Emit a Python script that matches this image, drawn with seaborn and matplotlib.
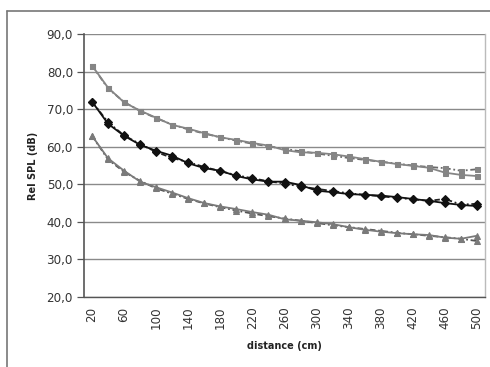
import matplotlib
matplotlib.use("Agg")
import matplotlib.pyplot as plt
import seaborn as sns
import numpy as np
import pandas as pd
from matplotlib.lines import Line2D

sns.set_style("white")
plt.rcParams['font.family'] = ['DejaVu Sans']

distance = [20, 40, 60, 80, 100, 120, 140, 160, 180, 200, 220, 240, 260,
            280, 300, 320, 340, 360, 380, 400, 420, 440, 460, 480, 500]

top_solid = [81.6, 75.7, 71.8, 69.6, 67.7, 65.8, 64.8, 63.6, 62.5, 61.8, 61.0, 60.3, 59.1,
             58.5, 58.4, 58.0, 57.4, 56.7, 56.0, 55.4, 54.9, 54.4, 53.1, 52.5, 52.2]
top_dotted = [81.6, 75.5, 71.9, 69.5, 67.6, 65.9, 64.6, 63.5, 62.5, 61.6, 60.8, 60.1, 59.4,
              58.8, 58.2, 57.6, 57.0, 56.5, 56.0, 55.5, 55.0, 54.6, 54.3, 53.6, 54.0]
mid_solid = [72.0, 66.1, 62.9, 60.5, 58.9, 57.6, 55.6, 54.3, 53.6, 52.2, 51.3, 50.7, 50.7,
             49.8, 48.3, 47.9, 47.4, 47.2, 47.0, 46.6, 46.1, 45.6, 45.0, 44.5, 44.2]
mid_dotted = [72.0, 66.5, 63.0, 60.7, 58.6, 57.0, 55.9, 54.6, 53.5, 52.4, 51.6, 50.8, 50.2,
              49.4, 48.8, 48.2, 47.6, 47.2, 46.8, 46.4, 46.0, 45.6, 46.1, 44.6, 44.8]
bot_solid = [62.9, 56.9, 53.6, 50.7, 49.2, 47.8, 46.3, 45.0, 44.1, 43.4, 42.6, 41.9, 40.7,
             40.3, 39.9, 39.4, 38.6, 37.9, 37.4, 37.0, 36.7, 36.5, 35.8, 35.5, 36.3]
bot_dotted = [62.9, 56.6, 53.3, 50.9, 48.9, 47.5, 46.1, 44.9, 43.9, 43.0, 42.2, 41.5, 40.9,
              40.3, 39.7, 39.1, 38.6, 38.1, 37.6, 37.1, 36.7, 36.3, 35.9, 35.5, 34.9]

y_ticks = [20, 30, 40, 50, 60, 70, 80, 90]
x_label_ticks = distance[::2]

fig = plt.figure(figsize=(4.9, 3.67), dpi=100)
ax = fig.add_axes([84/490, 1 - 297/367, 401/490, (297 - 34)/367])

dotstyle = (0, (3, 1.5, 1, 1.5))
series = [
    (top_solid, top_dotted, 's', '#858585', '#6a6a6a', 3.6),
    (mid_solid, mid_dotted, 'D', '#111111', '#222222', 3.8),
    (bot_solid, bot_dotted, '^', '#7a7a7a', '#555555', 4.2),
]
for solid, dotted, mk, c1, c2, ms in series:
    sns.lineplot(x=distance, y=dotted, ax=ax, color=c2, linestyle=dotstyle, linewidth=1.3,
                 marker=mk, markersize=ms, markeredgecolor=c1, markerfacecolor=c1)
    sns.lineplot(x=distance, y=solid, ax=ax, color=c1, linestyle='-', linewidth=1.3,
                 marker=mk, markersize=ms, markeredgecolor=c1, markerfacecolor=c1)

ax.set_xlim(10, 510)
ax.set_ylim(20, 90)
ax.set_yticks(y_ticks)
ax.set_yticklabels([f"{v:.1f}".replace('.', ',') for v in y_ticks], fontsize=8.6, color='#333333')
ax.set_xticks(x_label_ticks)
ax.set_xticklabels([str(v) for v in x_label_ticks], rotation=90, fontsize=8.6, color='#333333')
ax.set_xticks(np.arange(10, 511, 20), minor=True)
ax.tick_params(axis='x', which='major', length=0, pad=7)
ax.tick_params(axis='x', which='minor', length=5, width=0.9, color='#555555', direction='out')
ax.tick_params(axis='y', which='major', length=5, width=0.9, color='#555555', direction='out', left=True, pad=3)

ax.grid(False)
for v in y_ticks:
    ax.axhline(v, color='#8a8a8a', linewidth=1.0, zorder=0)

ax.spines['top'].set_visible(False)
ax.spines['left'].set_color('#555555')
ax.spines['left'].set_linewidth(1.2)
ax.spines['bottom'].set_color('#555555')
ax.spines['bottom'].set_linewidth(1.0)
ax.spines['right'].set_color('#bbbbbb')
ax.spines['right'].set_linewidth(1.0)

ax.set_xlabel('distance (cm)', fontsize=7, fontweight='bold', labelpad=8, color='#222222')
ax.set_ylabel('Rel SPL (dB)', fontsize=7, fontweight='bold', labelpad=6, color='#222222')

# outer chart-area border (left and top visible)
fig.add_artist(Line2D([7/490, 7/490], [0, 1 - 11/367], transform=fig.transFigure,
                      color='#777777', linewidth=1.2))
fig.add_artist(Line2D([7/490, 1], [1 - 11/367, 1 - 11/367], transform=fig.transFigure,
                      color='#777777', linewidth=1.2))

fig.savefig('out.png', dpi=100)
